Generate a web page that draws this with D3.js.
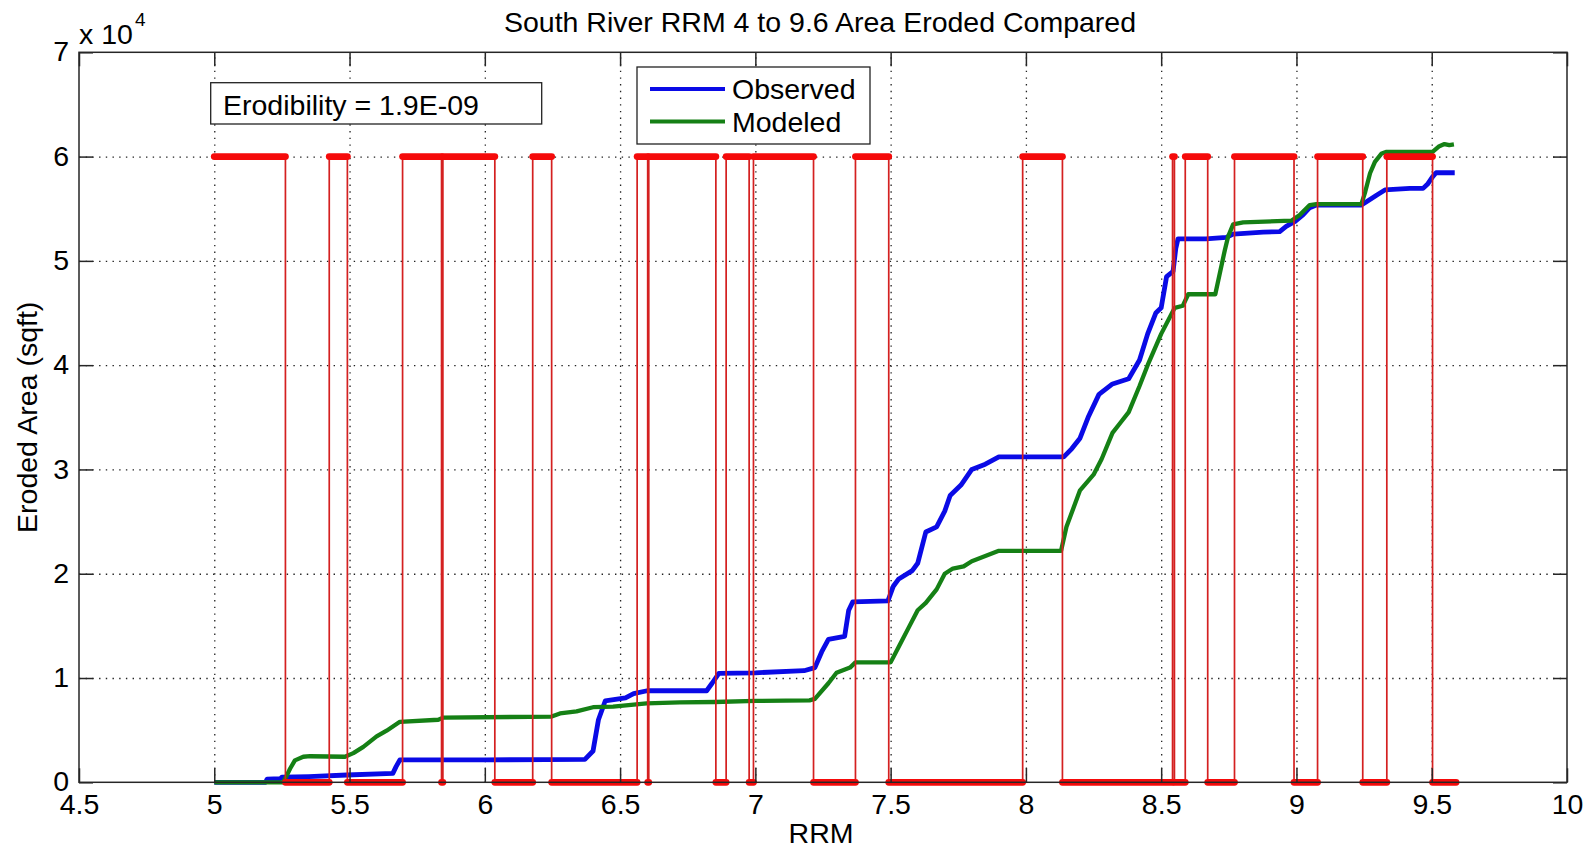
<!DOCTYPE html>
<html>
<head>
<meta charset="utf-8">
<script src="https://cdn.jsdelivr.net/npm/d3@7"></script>
<style>
  html, body { margin: 0; padding: 0; background: #fff; }
  svg text { font-family: "Liberation Sans", Arial, Helvetica, sans-serif; fill: #000; }
</style>
</head>
<body>
<svg id="chart" width="1594" height="851"></svg>
<script>
// ---------------- data ----------------
const chartTitle = "South River RRM 4 to 9.6 Area Eroded Compared";
const xTicks = [4.5, 5, 5.5, 6, 6.5, 7, 7.5, 8, 8.5, 9, 9.5, 10];
const xTickLabels = ["4.5", "5", "5.5", "6", "6.5", "7", "7.5", "8", "8.5", "9", "9.5", "10"];
const yTicks = [0, 10000, 20000, 30000, 40000, 50000, 60000, 70000];
const yTickLabels = ["0", "1", "2", "3", "4", "5", "6", "7"];
const seriesNames = ["Observed", "Modeled"];
const annotationText = "Erodibility = 1.9E-09";

// Observed eroded area [RRM, sqft]
const observed = [
  [5.00, 0], [5.19, 0], [5.195, 300], [5.245, 350], [5.25, 500], [5.35, 550], [5.49, 700],
  [5.66, 860], [5.672, 1500], [5.686, 2150], [6.0, 2150], [6.37, 2200], [6.40, 3000],
  [6.42, 6000], [6.445, 7800], [6.52, 8100], [6.55, 8500], [6.60, 8780], [6.82, 8780],
  [6.84, 9500], [6.865, 10450], [7.0, 10500], [7.18, 10700], [7.22, 11000], [7.245, 12500],
  [7.27, 13700], [7.33, 14000], [7.345, 16500], [7.36, 17300], [7.49, 17400], [7.51, 18800],
  [7.53, 19500], [7.58, 20300], [7.60, 21000], [7.63, 24000], [7.67, 24500], [7.70, 26000],
  [7.72, 27500], [7.76, 28500], [7.80, 30000], [7.85, 30500], [7.90, 31200], [8.14, 31200],
  [8.17, 32000], [8.20, 33000], [8.23, 35000], [8.27, 37200], [8.32, 38200], [8.38, 38700],
  [8.42, 40500], [8.45, 43000], [8.48, 45000], [8.50, 45500], [8.52, 48500], [8.544, 49000],
  [8.554, 51200], [8.562, 52100], [8.665, 52100], [8.741, 52250], [8.766, 52570],
  [8.877, 52760], [8.938, 52800], [8.962, 53300], [8.993, 53750], [9.024, 54400],
  [9.049, 55100], [9.074, 55350], [9.24, 55350], [9.259, 55670], [9.296, 56300],
  [9.327, 56800], [9.419, 56950], [9.468, 56950], [9.486, 57400], [9.503, 58060],
  [9.516, 58450], [9.585, 58450]
];

// Modeled eroded area [RRM, sqft]
const modeled = [
  [5.00, 0], [5.255, 0], [5.265, 500], [5.28, 1300], [5.298, 2100], [5.329, 2450], [5.354, 2500],
  [5.483, 2450], [5.514, 2800], [5.551, 3400], [5.60, 4400], [5.637, 4950], [5.686, 5800],
  [5.828, 6000], [5.846, 6200], [6.247, 6300], [6.278, 6600], [6.339, 6800], [6.40, 7200],
  [6.474, 7250], [6.598, 7570], [6.721, 7670], [6.85, 7700], [7.0, 7800], [7.2, 7850],
  [7.22, 8000], [7.27, 9500], [7.30, 10500], [7.35, 11000], [7.37, 11500], [7.50, 11500],
  [7.53, 13000], [7.57, 15000], [7.60, 16500], [7.63, 17200], [7.67, 18500], [7.70, 20000],
  [7.73, 20500], [7.77, 20700], [7.80, 21200], [7.85, 21700], [7.90, 22200], [8.13, 22200],
  [8.15, 24500], [8.20, 28000], [8.25, 29500], [8.28, 31000], [8.32, 33500], [8.35, 34500],
  [8.38, 35500], [8.42, 38000], [8.45, 40000], [8.50, 43000], [8.55, 45500], [8.58, 45700],
  [8.60, 46800], [8.70, 46800], [8.735, 51000], [8.747, 52300], [8.766, 53500],
  [8.803, 53700], [8.981, 53850], [9.012, 54400], [9.049, 55350], [9.074, 55450],
  [9.24, 55450], [9.254, 56600], [9.272, 58400], [9.29, 59500], [9.315, 60300],
  [9.333, 60450], [9.503, 60450], [9.528, 61000], [9.547, 61200], [9.565, 61100],
  [9.582, 61170]
];

// On/off indicator (value 60000 while "on", 0 otherwise)
const indicatorLevel = 60000;
const indicatorEnd = 9.59;
const highStarts = [5.000, 5.425, 5.696, 5.845, 6.177, 6.563, 6.606, 6.892, 6.993, 7.370, 7.988, 8.542, 8.589, 8.771, 9.078, 9.334];
const highEnds   = [5.263, 5.492, 5.840, 6.037, 6.247, 6.602, 6.854, 6.977, 7.215, 7.493, 8.135, 8.549, 8.672, 8.991, 9.245, 9.503];

// ---------------- layout ----------------
const W = 1594, H = 851;
const L = 79, R = 1567, T = 52.3, B = 782.3;
const FS = 28.5;

const svg = d3.select("#chart");
svg.append("rect").attr("width", W).attr("height", H).attr("fill", "#fff");

const x = d3.scaleLinear().domain([4.5, 10]).range([L, R]);
const y = d3.scaleLinear().domain([0, 70000]).range([B, T]);

// grid
const gridX = svg.append("g").attr("transform", `translate(0,${B})`)
  .call(d3.axisBottom(x).tickValues(xTicks.slice(1, -1)).tickSize(-(B - T)).tickFormat(""));
gridX.select(".domain").remove();
gridX.selectAll("line").attr("stroke", "#222").attr("stroke-width", 1.3).attr("stroke-dasharray", "1.4,5.3");

const gridY = svg.append("g").attr("transform", `translate(${L},0)`)
  .call(d3.axisLeft(y).tickValues(yTicks.slice(1, -1)).tickSize(-(R - L)).tickFormat(""));
gridY.select(".domain").remove();
gridY.selectAll("line").attr("stroke", "#222").attr("stroke-width", 1.3).attr("stroke-dasharray", "1.4,5.3");

// series lines
const line = d3.line().x(d => x(d[0])).y(d => y(d[1]));
svg.append("path").datum(observed).attr("d", line)
  .attr("fill", "none").attr("stroke", "#0a0ae6").attr("stroke-width", 4.8).attr("stroke-linejoin", "round");
svg.append("path").datum(modeled).attr("d", line)
  .attr("fill", "none").attr("stroke", "#158015").attr("stroke-width", 4.3).attr("stroke-linejoin", "round");

// indicator step signal
const stepPts = [];
highStarts.forEach((s, i) => {
  if (i > 0) stepPts.push([s, 0]);
  stepPts.push([s, indicatorLevel]);
  stepPts.push([highEnds[i], indicatorLevel]);
  stepPts.push([highEnds[i], 0]);
});
stepPts.push([indicatorEnd, 0]);
svg.append("path").datum(stepPts).attr("d", line)
  .attr("fill", "none").attr("stroke", "#d42020").attr("stroke-width", 1.7);

const thickSegs = [];
highStarts.forEach((s, i) => {
  thickSegs.push([[s, indicatorLevel], [highEnds[i], indicatorLevel]]);
  const nextStart = i + 1 < highStarts.length ? highStarts[i + 1] : indicatorEnd;
  thickSegs.push([[highEnds[i], 0], [nextStart, 0]]);
});
svg.append("g").selectAll("path").data(thickSegs).join("path")
  .attr("d", line).attr("fill", "none").attr("stroke", "#f50a0a")
  .attr("stroke-width", 6.8).attr("stroke-linecap", "round");

// axes box
svg.append("rect").attr("x", L).attr("y", T).attr("width", R - L).attr("height", B - T)
  .attr("fill", "none").attr("stroke", "#262626").attr("stroke-width", 1.5);

// tick marks + labels
const axB = svg.append("g").attr("transform", `translate(0,${B})`)
  .call(d3.axisBottom(x).tickValues(xTicks).tickSize(-14).tickFormat((d, i) => xTickLabels[i]));
axB.select(".domain").remove();
axB.selectAll("line").attr("stroke", "#262626").attr("stroke-width", 1.5);
axB.selectAll("text").attr("y", 32).attr("dy", 0).style("font-size", FS + "px").attr("fill", "#000");

const axT = svg.append("g").attr("transform", `translate(0,${T})`)
  .call(d3.axisTop(x).tickValues(xTicks).tickSize(-14).tickFormat(""));
axT.select(".domain").remove();
axT.selectAll("line").attr("stroke", "#262626").attr("stroke-width", 1.5);

const axL = svg.append("g").attr("transform", `translate(${L},0)`)
  .call(d3.axisLeft(y).tickValues(yTicks).tickSize(-14).tickFormat((d, i) => yTickLabels[i]));
axL.select(".domain").remove();
axL.selectAll("line").attr("stroke", "#262626").attr("stroke-width", 1.5);
axL.selectAll("text").attr("x", -10).attr("dy", "0.3em").style("font-size", FS + "px").attr("fill", "#000");

const axR = svg.append("g").attr("transform", `translate(${R},0)`)
  .call(d3.axisRight(y).tickValues(yTicks).tickSize(-14).tickFormat(""));
axR.select(".domain").remove();
axR.selectAll("line").attr("stroke", "#262626").attr("stroke-width", 1.5);

// exponent label
const expo = svg.append("text").attr("x", L).attr("y", 44).style("font-size", FS + "px");
expo.append("tspan").text("x 10");
expo.append("tspan").attr("dx", 2).attr("dy", -18).style("font-size", "19px").text("4");

// title
svg.append("text").attr("x", (L + R) / 2 - 3).attr("y", 32).attr("text-anchor", "middle")
  .style("font-size", FS + "px").text(chartTitle);

// axis labels
svg.append("text").attr("x", (L + R) / 2 - 2).attr("y", 843).attr("text-anchor", "middle")
  .style("font-size", FS + "px").text("RRM");
svg.append("text").attr("transform", `translate(37,${(T + B) / 2}) rotate(-90)`)
  .attr("text-anchor", "middle").style("font-size", FS + "px").text("Eroded Area (sqft)");

// annotation box
svg.append("rect").attr("x", 210.7).attr("y", 82.7).attr("width", 331).attr("height", 41.3)
  .attr("fill", "#fff").attr("stroke", "#222").attr("stroke-width", 1.3);
svg.append("text").attr("x", 223).attr("y", 115).style("font-size", FS + "px").text(annotationText);

// legend
const lg = svg.append("g");
lg.append("rect").attr("x", 637).attr("y", 67).attr("width", 233).attr("height", 77)
  .attr("fill", "#fff").attr("stroke", "#222").attr("stroke-width", 1.3);
const legColors = ["#0a0ae6", "#158015"];
seriesNames.forEach((n, i) => {
  const ly = 89 + i * 32.5;
  lg.append("line").attr("x1", 650).attr("x2", 725).attr("y1", ly).attr("y2", ly)
    .attr("stroke", legColors[i]).attr("stroke-width", 4);
  lg.append("text").attr("x", 732).attr("y", ly + 10).style("font-size", FS + "px").text(n);
});
</script>
</body>
</html>
